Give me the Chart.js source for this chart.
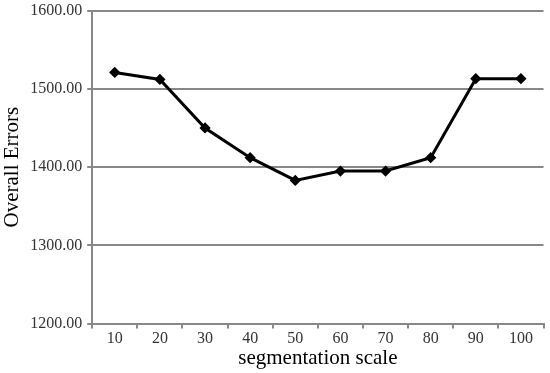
<!DOCTYPE html>
<html>
<head>
<meta charset="utf-8">
<script src="https://cdn.jsdelivr.net/npm/chart.js@4"></script>
<style>
  html, body { margin: 0; padding: 0; background: #fff; overflow: hidden; }
  #wrap { width: 550px; height: 373px; overflow: hidden; }
  #lineChart { display: block; margin-top: -4px; }
</style>
</head>
<body>
<div id="wrap"><canvas id="lineChart" width="550" height="377"></canvas></div>
<script>
// segmentation scale vs overall errors
const scales = ['10', '20', '30', '40', '50', '60', '70', '80', '90', '100'];
const errors = [1521, 1512, 1450, 1412, 1383, 1395, 1395, 1412, 1513, 1513];
const yTicks = [1200, 1300, 1400, 1500, 1600];

const serif = "'Liberation Serif', 'Times New Roman', serif";

const ctx = document.getElementById('lineChart').getContext('2d');
new Chart(ctx, {
    type: 'line',
    data: {
        labels: scales,
        datasets: [{
            label: 'Overall Errors',
            data: errors,
            borderColor: '#000',
            backgroundColor: '#000',
            borderWidth: 3,
            pointStyle: 'rectRot',
            pointRadius: 3.5,
            pointHoverRadius: 3.5,
            tension: 0,
            fill: false
        }]
    },
    options: {
        responsive: false,
        animation: false,
        layout: { padding: { top: 0, right: 6, left: 0, bottom: 2 } },
        plugins: {
            legend: { display: false },
            tooltip: { enabled: false }
        },
        scales: {
            x: {
                offset: true,
                grid: {
                    offset: true,
                    drawOnChartArea: false,
                    drawTicks: true,
                    tickLength: 5,
                    color: '#888',
                    lineWidth: 2
                },
                border: { color: '#888', width: 2 },
                ticks: { color: '#333', font: { family: serif, size: 16 }, padding: 1 },
                title: {
                    display: true,
                    text: 'segmentation scale',
                    color: '#000',
                    font: { family: serif, size: 21 },
                    padding: { top: -4, bottom: 0 }
                }
            },
            y: {
                min: yTicks[0],
                max: yTicks[yTicks.length - 1],
                afterBuildTicks: (axis) => { axis.ticks = yTicks.map(v => ({ value: v })); },
                grid: {
                    color: '#888',
                    lineWidth: 2,
                    drawTicks: true,
                    tickLength: 5
                },
                border: { color: '#888', width: 2 },
                ticks: {
                    color: '#333',
                    font: { family: serif, size: 16 },
                    padding: 5,
                    callback: (v) => Number(v).toFixed(2)
                },
                title: {
                    display: true,
                    text: 'Overall Errors',
                    color: '#000',
                    font: { family: serif, size: 21 },
                    padding: { top: 0, bottom: 0 }
                }
            }
        }
    }
});
</script>
</body>
</html>
